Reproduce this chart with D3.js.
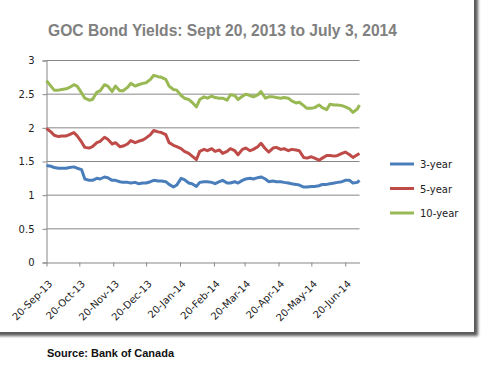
<!doctype html>
<html>
<head>
<meta charset="UTF-8">
<script src="https://d3js.org/d3.v7.min.js"></script>
<style>
body { margin: 0; background: #fff; }
svg { display: block; }
</style>
</head>
<body>
<script>
// observation dates (roughly twice a week)
var dates = ["2013-09-20","2013-09-24","2013-09-27","2013-10-01","2013-10-04","2013-10-08","2013-10-11","2013-10-15","2013-10-18","2013-10-22",
  "2013-10-25","2013-10-29","2013-11-01","2013-11-05","2013-11-08","2013-11-12","2013-11-15","2013-11-19","2013-11-22","2013-11-26",
  "2013-11-29","2013-12-03","2013-12-06","2013-12-10","2013-12-13","2013-12-17","2013-12-20","2013-12-24","2013-12-27","2013-12-31",
  "2014-01-03","2014-01-07","2014-01-10","2014-01-14","2014-01-17","2014-01-21","2014-01-24","2014-01-28","2014-01-31","2014-02-04",
  "2014-02-07","2014-02-11","2014-02-14","2014-02-18","2014-02-21","2014-02-25","2014-02-28","2014-03-04","2014-03-07","2014-03-11",
  "2014-03-14","2014-03-18","2014-03-21","2014-03-25","2014-03-28","2014-04-01","2014-04-04","2014-04-08","2014-04-11","2014-04-15",
  "2014-04-18","2014-04-22","2014-04-25","2014-04-29","2014-05-02","2014-05-06","2014-05-09","2014-05-13","2014-05-16","2014-05-20",
  "2014-05-23","2014-05-27","2014-05-30","2014-06-03","2014-06-06","2014-06-10","2014-06-13","2014-06-17","2014-06-20","2014-06-24",
  "2014-06-27","2014-07-01","2014-07-03"];

var yr3 = [1.44,1.43,1.41,1.40,1.40,1.40,1.41,1.42,1.40,1.38,
  1.24,1.22,1.22,1.25,1.24,1.27,1.26,1.22,1.22,1.20,
  1.19,1.19,1.18,1.19,1.17,1.18,1.18,1.20,1.22,1.21,
  1.21,1.20,1.16,1.12,1.15,1.25,1.23,1.18,1.17,1.13,
  1.19,1.20,1.20,1.19,1.17,1.20,1.22,1.18,1.18,1.20,
  1.18,1.22,1.24,1.25,1.24,1.26,1.27,1.24,1.20,1.21,
  1.20,1.20,1.19,1.18,1.17,1.16,1.15,1.12,1.12,1.13,
  1.13,1.14,1.16,1.16,1.17,1.18,1.19,1.20,1.22,1.22,
  1.18,1.19,1.22];

var yr5 = [1.99,1.94,1.89,1.87,1.88,1.88,1.90,1.93,1.88,1.79,
  1.71,1.70,1.72,1.78,1.80,1.86,1.83,1.76,1.78,1.72,
  1.73,1.76,1.81,1.78,1.80,1.82,1.85,1.90,1.96,1.94,
  1.93,1.90,1.78,1.74,1.72,1.69,1.65,1.62,1.58,1.53,
  1.65,1.68,1.66,1.69,1.65,1.67,1.62,1.65,1.69,1.66,
  1.60,1.68,1.70,1.66,1.68,1.72,1.77,1.69,1.64,1.70,
  1.71,1.68,1.69,1.66,1.68,1.67,1.66,1.56,1.55,1.57,
  1.55,1.52,1.55,1.59,1.59,1.58,1.59,1.62,1.64,1.60,
  1.56,1.60,1.62];

var yr10 = [2.70,2.62,2.56,2.56,2.57,2.58,2.60,2.64,2.62,2.52,
  2.44,2.41,2.42,2.53,2.55,2.64,2.62,2.54,2.62,2.55,
  2.55,2.60,2.66,2.62,2.64,2.66,2.67,2.72,2.78,2.76,
  2.75,2.72,2.62,2.57,2.56,2.48,2.44,2.42,2.38,2.31,
  2.42,2.46,2.44,2.47,2.45,2.44,2.44,2.41,2.49,2.48,
  2.42,2.47,2.50,2.48,2.46,2.49,2.54,2.44,2.46,2.46,
  2.45,2.44,2.45,2.44,2.40,2.37,2.38,2.33,2.29,2.29,
  2.30,2.34,2.30,2.27,2.35,2.34,2.34,2.33,2.31,2.28,
  2.23,2.28,2.34];

var seriesNames = ["3-year", "5-year", "10-year"];
var seriesColors = ["#4a7ebb", "#be4b48", "#98b954"];
var yTicks = [0, 0.5, 1, 1.5, 2, 2.5, 3];
var xTicks = ["2013-09-20","2013-10-20","2013-11-20","2013-12-20","2014-01-20","2014-02-20","2014-03-20","2014-04-20","2014-05-20","2014-06-20"];

var W = 483, H = 375;
var parse = d3.timeParse("%Y-%m-%d");
var fmt = d3.timeFormat("%-d-%b-%y");

var svg = d3.select("body").append("svg")
    .attr("width", W)
    .attr("height", H);

// drop shadow for the card
var defs = svg.append("defs");
var f = defs.append("filter").attr("id", "shadow")
    .attr("x", "-5%").attr("y", "-5%").attr("width", "115%").attr("height", "115%");
f.append("feGaussianBlur").attr("in", "SourceAlpha").attr("stdDeviation", 1.8).attr("result", "b");
f.append("feOffset").attr("in", "b").attr("dx", 4).attr("dy", 4).attr("result", "o");
f.append("feComponentTransfer").attr("in", "o").attr("result", "o2")
  .append("feFuncA").attr("type", "linear").attr("slope", 0.65);
var m = f.append("feMerge");
m.append("feMergeNode").attr("in", "o2");
m.append("feMergeNode").attr("in", "SourceGraphic");

svg.append("rect")
    .attr("x", -10).attr("y", -10)
    .attr("width", 484).attr("height", 342)
    .attr("fill", "#fff")
    .attr("filter", "url(#shadow)");

var x = d3.scaleTime()
    .domain([parse(dates[0]), parse(dates[dates.length - 1])])
    .range([46.5, 359.5]);
var y = d3.scaleLinear()
    .domain([0, 3])
    .range([262.5, 60.5]);

// gridlines
svg.append("g").selectAll("line")
    .data(yTicks.slice(1))
    .enter().append("line")
    .attr("x1", 46.5).attr("x2", 359.5)
    .attr("y1", function(d) { return y(d); })
    .attr("y2", function(d) { return y(d); })
    .attr("stroke", "#878787")
    .attr("stroke-width", 1);

// y axis
var yAxis = svg.append("g")
    .attr("transform", "translate(46.5,0)")
    .call(d3.axisLeft(y).tickValues(yTicks).tickSize(4).tickPadding(8)
      .tickFormat(function(d) { return d; }));
yAxis.select(".domain").attr("stroke", "#878787");
yAxis.selectAll(".tick line").attr("stroke", "#878787");
yAxis.selectAll("text")
    .attr("font-family", "DejaVu Sans")
    .attr("font-size", 10)
    .attr("fill", "#222");

// x axis
var xAxis = svg.append("g")
    .attr("transform", "translate(0,262.5)")
    .call(d3.axisBottom(x).tickValues(xTicks.map(parse)).tickSize(4).tickSizeOuter(0).tickFormat(fmt));
xAxis.select(".domain").attr("stroke", "#878787");
xAxis.selectAll(".tick line").attr("stroke", "#878787");
xAxis.selectAll("text")
    .attr("font-family", "DejaVu Sans")
    .attr("font-size", 10)
    .attr("fill", "#222")
    .attr("text-anchor", "end")
    .attr("dy", 0)
    .attr("transform", "translate(1,17) rotate(-45)");

// lines
var allSeries = [yr3, yr5, yr10];
var line = d3.line()
    .x(function(d, i) { return x(parse(dates[i])); })
    .y(function(d) { return y(d); });

svg.append("g").selectAll("path")
    .data(allSeries)
    .enter().append("path")
    .attr("d", line)
    .attr("fill", "none")
    .attr("stroke", function(d, i) { return seriesColors[i]; })
    .attr("stroke-width", 3)
    .attr("stroke-linejoin", "round");

// legend
var legend = svg.append("g").attr("transform", "translate(390,164)");
var item = legend.selectAll("g")
    .data(seriesNames)
    .enter().append("g")
    .attr("transform", function(d, i) { return "translate(0," + (i * 24.5) + ")"; });
item.append("line")
    .attr("x1", 0).attr("x2", 24)
    .attr("stroke", function(d, i) { return seriesColors[i]; })
    .attr("stroke-width", 3);
item.append("text")
    .attr("x", 30).attr("y", 4)
    .attr("font-family", "DejaVu Sans")
    .attr("font-size", 10)
    .attr("fill", "#222")
    .text(function(d) { return d; });

// title and source
svg.append("text")
    .attr("x", 48).attr("y", 36)
    .attr("font-family", "Liberation Sans, Arial, sans-serif")
    .attr("font-weight", "bold")
    .attr("font-size", 17)
    .attr("textLength", 349)
    .attr("lengthAdjust", "spacingAndGlyphs")
    .attr("fill", "#808080")
    .text("GOC Bond Yields: Sept 20, 2013 to July 3, 2014");

svg.append("text")
    .attr("x", 47).attr("y", 357)
    .attr("font-family", "Liberation Sans, Arial, sans-serif")
    .attr("font-weight", "bold")
    .attr("font-size", 11.5)
    .attr("textLength", 127)
    .attr("lengthAdjust", "spacingAndGlyphs")
    .attr("fill", "#111")
    .text("Source: Bank of Canada");
</script>
</body>
</html>
